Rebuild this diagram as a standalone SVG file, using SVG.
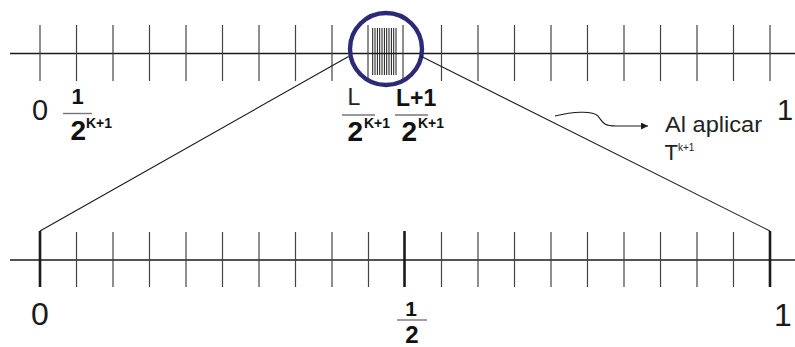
<svg xmlns="http://www.w3.org/2000/svg" width="795" height="347" viewBox="0 0 795 347">
<defs>
<style>
.axis{stroke:#1a1a1a;stroke-width:1.3;fill:none}
.tick{stroke:#444;stroke-width:1.2}
.major{stroke:#1a1a1a;stroke-width:2.6}
.dense{stroke:#1a1a1a;stroke-width:1}
.conn{stroke:#1a1a1a;stroke-width:1.1;fill:none}
.frac{stroke:#777;stroke-width:1.4}
.big{font-family:"Liberation Sans",Arial,sans-serif;font-size:29px;fill:#1a1a1a}
.num{font-family:"Liberation Sans",Arial,sans-serif;font-weight:bold;fill:#111}
.lbl{font-family:"Liberation Sans",Arial,sans-serif;fill:#222}
</style>
<marker id="ah" viewBox="0 0 10 10" refX="10" refY="5" markerWidth="9" markerHeight="7" markerUnits="userSpaceOnUse" orient="auto">
<path d="M0,0 L10,5 L0,10 z" fill="#1a1a1a"/>
</marker>
</defs>
<rect width="795" height="347" fill="#fff"/>

<g id="top-axis">
<line class="axis" x1="10" y1="53.5" x2="795" y2="53.5"/>
<g class="tick">
<line x1="40" y1="25" x2="40" y2="81"/>
<line x1="76.5" y1="25" x2="76.5" y2="81"/>
<line x1="113" y1="25" x2="113" y2="81"/>
<line x1="149.5" y1="25" x2="149.5" y2="81"/>
<line x1="186" y1="25" x2="186" y2="81"/>
<line x1="222.5" y1="25" x2="222.5" y2="81"/>
<line x1="259" y1="25" x2="259" y2="81"/>
<line x1="295.5" y1="25" x2="295.5" y2="81"/>
<line x1="332" y1="25" x2="332" y2="81"/>
<line x1="368" y1="25" x2="368" y2="81"/>
<line x1="403" y1="25" x2="403" y2="81"/>
<line x1="441.5" y1="25" x2="441.5" y2="81"/>
<line x1="478" y1="25" x2="478" y2="81"/>
<line x1="514.5" y1="25" x2="514.5" y2="81"/>
<line x1="551" y1="25" x2="551" y2="81"/>
<line x1="587.5" y1="25" x2="587.5" y2="81"/>
<line x1="624" y1="25" x2="624" y2="81"/>
<line x1="660.5" y1="25" x2="660.5" y2="81"/>
<line x1="697" y1="25" x2="697" y2="81"/>
<line x1="733.5" y1="25" x2="733.5" y2="81"/>
<line x1="770" y1="25" x2="770" y2="81"/>
</g>
<g class="dense">
<line x1="372.7" y1="28" x2="372.7" y2="75"/>
<line x1="375.0" y1="28" x2="375.0" y2="75"/>
<line x1="377.4" y1="28" x2="377.4" y2="75"/>
<line x1="379.7" y1="28" x2="379.7" y2="75"/>
<line x1="382.0" y1="28" x2="382.0" y2="75"/>
<line x1="384.4" y1="28" x2="384.4" y2="75"/>
<line x1="386.7" y1="28" x2="386.7" y2="75"/>
<line x1="389.0" y1="28" x2="389.0" y2="75"/>
<line x1="391.4" y1="28" x2="391.4" y2="75"/>
<line x1="393.7" y1="28" x2="393.7" y2="75"/>
<line x1="396.0" y1="28" x2="396.0" y2="75"/>
</g>
</g>

<g id="magnifier">
<circle cx="386" cy="49" r="36" fill="none" stroke="#2c2a78" stroke-width="4.4"/>
</g>

<g id="bottom-axis">
<line class="axis" x1="10" y1="260" x2="795" y2="260"/>
<g class="tick">
<line x1="76.5" y1="232" x2="76.5" y2="287"/>
<line x1="113" y1="232" x2="113" y2="287"/>
<line x1="149.5" y1="232" x2="149.5" y2="287"/>
<line x1="186" y1="232" x2="186" y2="287"/>
<line x1="222.5" y1="232" x2="222.5" y2="287"/>
<line x1="259" y1="232" x2="259" y2="287"/>
<line x1="295.5" y1="232" x2="295.5" y2="287"/>
<line x1="332" y1="232" x2="332" y2="287"/>
<line x1="368.5" y1="232" x2="368.5" y2="287"/>
<line x1="441.5" y1="232" x2="441.5" y2="287"/>
<line x1="478" y1="232" x2="478" y2="287"/>
<line x1="514.5" y1="232" x2="514.5" y2="287"/>
<line x1="551" y1="232" x2="551" y2="287"/>
<line x1="587.5" y1="232" x2="587.5" y2="287"/>
<line x1="624" y1="232" x2="624" y2="287"/>
<line x1="660.5" y1="232" x2="660.5" y2="287"/>
<line x1="697" y1="232" x2="697" y2="287"/>
<line x1="733.5" y1="232" x2="733.5" y2="287"/>
</g>
<g class="major">
<line x1="40" y1="231" x2="40" y2="287"/>
<line x1="404.5" y1="231" x2="404.5" y2="287"/>
<line x1="770" y1="231" x2="770" y2="287"/>
</g>
</g>

<g id="connectors">
<line class="conn" x1="348.5" y1="56.5" x2="40" y2="231"/>
<line class="conn" x1="420.5" y1="56" x2="770" y2="231"/>
<path class="conn" d="M555,116 C572,112 592,110 598,116 C603,123 604,126 616,126 L648,126" marker-end="url(#ah)"/>
</g>

<g id="top-labels">
<text class="big" x="40" y="120" text-anchor="middle">0</text>
<text class="big" x="785" y="120" text-anchor="middle">1</text>
<g id="frac-1">
<text class="num" x="77.5" y="104" font-size="22" text-anchor="middle">1</text>
<line class="frac" x1="63" y1="113.5" x2="92" y2="113.5"/>
<text class="num" x="70.5" y="140" font-size="28">2</text>
<text class="num" x="86" y="128" font-size="14">K+1</text>
</g>
<g id="frac-L">
<text class="lbl" x="354" y="105" font-size="23" text-anchor="middle" fill="#444">L</text>
<line class="frac" x1="342" y1="115" x2="375" y2="115"/>
<text class="num" x="347.5" y="141" font-size="28">2</text>
<text class="num" x="364" y="128" font-size="14">K+1</text>
</g>
<g id="frac-L1">
<text class="num" x="396" y="106" font-size="23">L+1</text>
<line class="frac" x1="395" y1="115" x2="428" y2="115"/>
<text class="num" x="401.5" y="141" font-size="28">2</text>
<text class="num" x="418" y="128" font-size="14">K+1</text>
</g>
</g>

<g id="note">
<text class="lbl" x="665" y="132" font-size="22" textLength="97" lengthAdjust="spacingAndGlyphs">Al aplicar</text>
<text class="lbl" x="664.5" y="160" font-size="22" fill="#333">T</text>
<text class="lbl" x="678" y="151" font-size="10" fill="#333">k+1</text>
</g>

<g id="bottom-labels">
<text class="big" x="40" y="325" style="font-size:32px" text-anchor="middle">0</text>
<text class="big" x="783" y="326" style="font-size:32px" text-anchor="middle">1</text>
<g id="frac-half">
<text class="num" x="411" y="316" font-size="21" text-anchor="middle">1</text>
<line class="frac" x1="397" y1="320" x2="427" y2="320"/>
<text class="num" x="412" y="343" font-size="24" text-anchor="middle">2</text>
</g>
</g>
</svg>
